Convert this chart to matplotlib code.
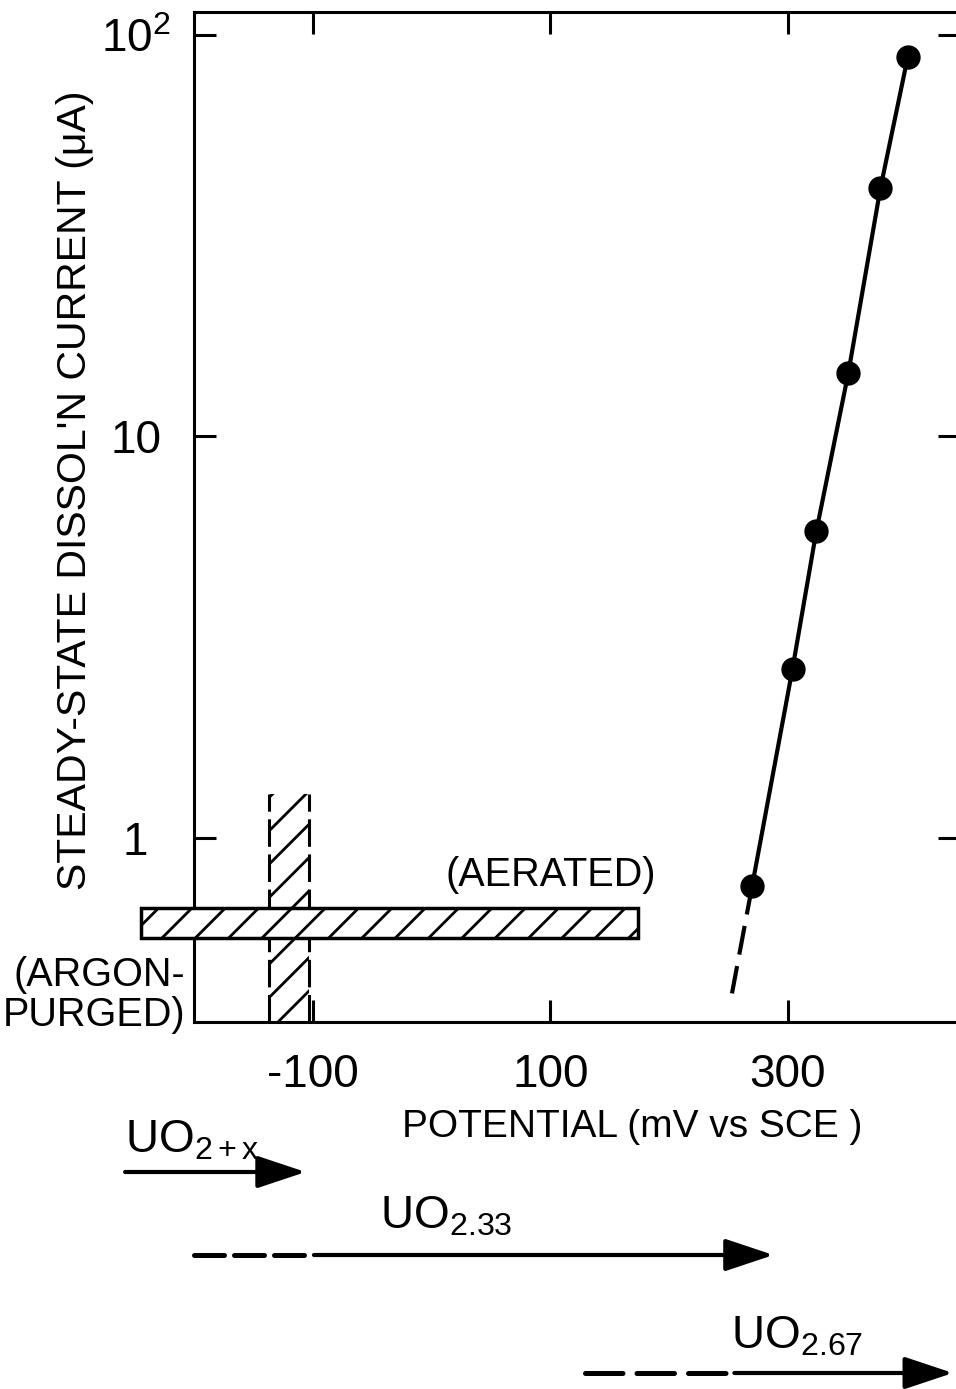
import matplotlib
matplotlib.use("Agg")
import matplotlib.pyplot as plt
from matplotlib.patches import Rectangle
from matplotlib.ticker import NullLocator
from matplotlib.transforms import blended_transform_factory

plt.rcParams['font.family'] = ['Liberation Sans', 'DejaVu Sans']
plt.rcParams['mathtext.fontset'] = 'custom'
plt.rcParams['mathtext.rm'] = 'Liberation Sans'
plt.rcParams['mathtext.it'] = 'Liberation Sans'
plt.rcParams['mathtext.default'] = 'rm'
plt.rcParams['hatch.linewidth'] = 2.0

# measured dissolution currents (mV vs SCE, uA)
potential = [270, 304, 324, 351, 378, 401]
current = [0.76, 2.64, 5.8, 14.4, 41.5, 88]
# dashed extrapolation below the last point
extrap_potential = [270, 253]
extrap_current = [0.76, 0.41]

# corrosion potential ranges
aerated_x = (-245, 174)
aerated_y = (0.563, 0.67)
argon_x = (-137, -103)
argon_top = 1.29

# oxide phase ranges along the potential axis
phase_labels = ['UO$_{2+x}$', 'UO$_{2.33}$', 'UO$_{2.67}$']
phase_label_x = [-258, -43, 252]
phase_dashed = [None, (-200, -106), (129, 248)]
phase_solid = [(-258, -106), (-99, 288), (255, 439)]

xticks = [-100, 100, 300]
xticklabels = ['-100', '100', '300']
yticks = [1, 10, 100]
yticklabels = ['1', '10', '10$^2$']

fig = plt.figure(figsize=(9.56, 13.89), dpi=100)
ax = fig.add_axes([194 / 956, 1 - 1022 / 1389, 766 / 956, 1010 / 1389])
ax.set_yscale('log')
ax.set_xlim(-200, 445)
ax.set_ylim(0.348, 114)

ax.plot(potential, current, color='black', lw=3, marker='o', ms=16.5, zorder=5)
ax.plot(extrap_potential, extrap_current, color='black', lw=3, dashes=(7, 2.8), zorder=4)

# aerated band
ax.add_patch(Rectangle((aerated_x[0], aerated_y[0]), aerated_x[1] - aerated_x[0],
                       aerated_y[1] - aerated_y[0], facecolor='white', edgecolor='black',
                       hatch='/', lw=2.5, clip_on=False, zorder=3))
# argon-purged band
ylo = ax.get_ylim()[0]
ax.add_patch(Rectangle((argon_x[0], ylo), argon_x[1] - argon_x[0], argon_top - ylo,
                       fill=False, edgecolor='black', hatch='/', lw=0, zorder=2))
for xv in argon_x:
    ax.plot([xv, xv], [ylo, argon_top], color='black', lw=2.2, dashes=(9, 2.5), zorder=2)

ax.text(100, 0.81, '(AERATED)', fontsize=28.5, ha='center', va='center')

ax.set_xticks(xticks, labels=xticklabels)
ax.set_yticks(yticks, labels=yticklabels)
ax.yaxis.set_minor_locator(NullLocator())
ax.tick_params(direction='in', length=16, width=2.2, top=True, right=True, labelsize=33)
ax.tick_params(axis='x', pad=22)
ax.tick_params(axis='y', pad=42)
plt.setp(ax.get_yticklabels(), ha='center')
for s in ax.spines.values():
    s.set_linewidth(2.2)

fig.text(75 / 956, 1 - 490 / 1389, "STEADY-STATE DISSOL'N CURRENT (\u03bcA)", rotation=90,
         fontsize=29.5, ha='center', va='center')
fig.text(632 / 956, 1 - 1127 / 1389, 'POTENTIAL (mV vs SCE )', fontsize=28,
         ha='center', va='center')
fig.text(185 / 956, 1 - 995 / 1389, '(ARGON-\nPURGED)', fontsize=28.5, ha='right',
         va='center', multialignment='right', linespacing=1.05)

# phase arrows below the axis
trans = blended_transform_factory(ax.transData, fig.transFigure)
arrow_y = [1 - 1172 / 1389, 1 - 1255 / 1389, 1 - 1373 / 1389]
label_y = [1 - 1152 / 1389, 1 - 1228 / 1389, 1 - 1348 / 1389]
dash_pat = [None, (6, 2), (7.5, 2.8)]
for lab, lx, ly, dsh, sol, ay, dp in zip(phase_labels, phase_label_x, label_y,
                                          phase_dashed, phase_solid, arrow_y, dash_pat):
    ax.text(lx, ly, lab, transform=trans, fontsize=33, ha='left', va='baseline', clip_on=False)
    if dsh is not None:
        ax.plot(dsh, [ay, ay], transform=trans, color='black', lw=3.6, dashes=dp,
                dash_capstyle='round', clip_on=False)
    ax.annotate('', xy=(sol[1], ay), xytext=(sol[0], ay), xycoords=trans, textcoords=trans,
                annotation_clip=False,
                arrowprops=dict(arrowstyle='-|>,head_length=1.5,head_width=0.5',
                                mutation_scale=20, lw=3, color='black',
                                shrinkA=0, shrinkB=0))

fig.savefig('out.png', dpi=100)
